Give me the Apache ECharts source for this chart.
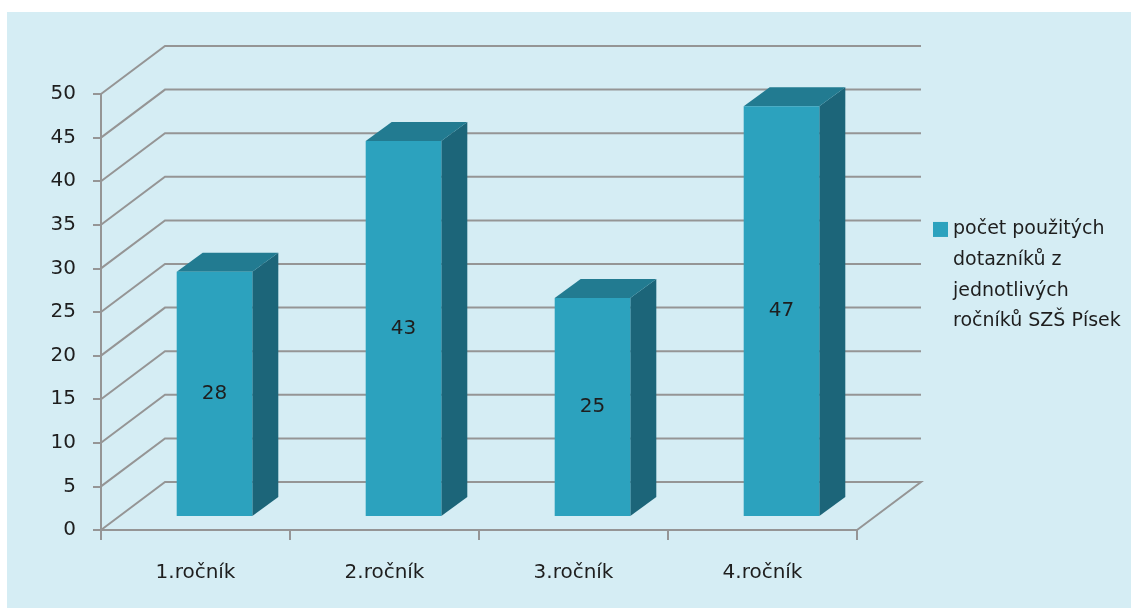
<!DOCTYPE html>
<html>
<head>
<meta charset="utf-8">
<script src="https://cdn.jsdelivr.net/npm/echarts@6/dist/echarts.min.js"></script>
<style>
  html, body { margin: 0; padding: 0; background: #ffffff; }
  #chart { width: 1131px; height: 608px; }
</style>
</head>
<body>
<div id="chart"></div>
<script>
// Number of questionnaires used, per school year
const categories = ['1.ročník', '2.ročník', '3.ročník', '4.ročník'];
const seriesName = 'počet použitých dotazníků z jednotlivých ročníků SZŠ Písek';
const legendLines = ['počet použitých', 'dotazníků z', 'jednotlivých', 'ročníků SZŠ Písek'];
const values = [28, 43, 25, 47];
const yTicks = [0, 5, 10, 15, 20, 25, 30, 35, 40, 45, 50];

// Oblique projection offsets (pixels)
const WALL_DX = 64, WALL_DY = -48;   // back wall relative to front plane
const BAR_DX = 19, BAR_DY = -14;     // bar front face relative to front plane
const DEPTH_DX = 26, DEPTH_DY = -19; // bar depth
const BAR_FRACTION = 0.4;

const COL_FRONT = '#2ca2be';
const COL_TOP = '#227b91';
const COL_SIDE = '#1c6579';
const GRID_COL = '#959595';
const TEXT_COL = '#1e1e1e';
const FONT = 'DejaVu Sans';

const chart = echarts.init(document.getElementById('chart'), null, { renderer: 'canvas' });

function renderWall(params, api) {
  const cs = params.coordSys;
  const v = api.value(1);
  const y = api.coord([0, v])[1];
  const x0 = cs.x, x1 = cs.x + cs.width;
  const pts = [[x0, y], [x0 + WALL_DX, y + WALL_DY], [x1 + WALL_DX, y + WALL_DY]];
  if (v === yTicks[0]) pts.push([x1, y]);
  return {
    type: 'polyline',
    shape: { points: pts },
    style: { stroke: GRID_COL, lineWidth: 2, fill: null },
    silent: true
  };
}

function renderBar(params, api) {
  const i = api.value(0);
  const v = api.value(1);
  const base = api.coord([i, 0]);
  const top = api.coord([i, v]);
  const bw = api.size([1, 0])[0] * BAR_FRACTION;
  const xl = base[0] + BAR_DX - bw / 2;
  const xr = base[0] + BAR_DX + bw / 2;
  const yt = top[1] + BAR_DY;
  const yb = base[1] + BAR_DY;
  return {
    type: 'group',
    children: [
      {
        type: 'polygon',
        shape: { points: [[xr, yt], [xr + DEPTH_DX, yt + DEPTH_DY], [xr + DEPTH_DX, yb + DEPTH_DY], [xr, yb]] },
        style: { fill: COL_SIDE }
      },
      {
        type: 'polygon',
        shape: { points: [[xl, yt], [xr, yt], [xr + DEPTH_DX, yt + DEPTH_DY], [xl + DEPTH_DX, yt + DEPTH_DY]] },
        style: { fill: COL_TOP }
      },
      {
        type: 'rect',
        shape: { x: xl, y: yt, width: xr - xl, height: yb - yt },
        style: { fill: COL_FRONT }
      },
      {
        type: 'text',
        style: {
          x: (xl + xr) / 2, y: (yt + yb) / 2,
          text: String(v),
          fill: TEXT_COL, font: '20px "' + FONT + '"',
          align: 'center', verticalAlign: 'middle'
        }
      }
    ]
  };
}

const option = {
  backgroundColor: '#ffffff',
  animation: false,
  graphic: [{
    type: 'rect', z: -10, silent: true,
    shape: { x: 7, y: 12, width: 1124, height: 596 },
    style: { fill: '#d5edf4' }
  }],
  grid: { left: 101, right: 274, top: 94, bottom: 78 },
  legend: {
    show: true,
    left: 933, top: 122,
    padding: 0,
    orient: 'vertical',
    icon: 'rect',
    itemWidth: 15, itemHeight: 15,
    itemGap: 0,
    selectedMode: false,
    data: [{ name: seriesName, itemStyle: { color: COL_FRONT } }],
    // the marker sits beside the first line of the wrapped name
    formatter: () => '\n\n\n' + legendLines.join('\n'),
    textStyle: {
      color: TEXT_COL, fontFamily: FONT, fontSize: 19,
      lineHeight: 30.7
    }
  },
  xAxis: {
    type: 'category',
    data: categories,
    boundaryGap: true,
    axisLine: { show: true, lineStyle: { color: GRID_COL, width: 2 } },
    axisTick: { show: true, alignWithLabel: false, length: 10, lineStyle: { color: GRID_COL, width: 2 } },
    axisLabel: { color: TEXT_COL, fontFamily: FONT, fontSize: 20, margin: 33 },
    splitLine: { show: false }
  },
  yAxis: {
    type: 'value',
    min: 0, max: 50, interval: 5,
    axisLine: { show: true, lineStyle: { color: GRID_COL, width: 2 } },
    axisTick: { show: true, length: 8, lineStyle: { color: GRID_COL, width: 2 } },
    axisLabel: { color: TEXT_COL, fontFamily: FONT, fontSize: 20, margin: 25 },
    splitLine: { show: false }
  },
  series: [
    {
      type: 'custom',
      name: 'wall',
      renderItem: renderWall,
      data: yTicks.map(t => [0, t]),
      encode: { x: 0, y: 1 },
      z: 1,
      silent: true,
      clip: false
    },
    {
      type: 'custom',
      name: seriesName,
      renderItem: renderBar,
      data: values.map((v, i) => [i, v]),
      encode: { x: 0, y: 1 },
      itemStyle: { color: COL_FRONT },
      z: 3,
      clip: false
    }
  ]
};

chart.setOption(option);
</script>
</body>
</html>
